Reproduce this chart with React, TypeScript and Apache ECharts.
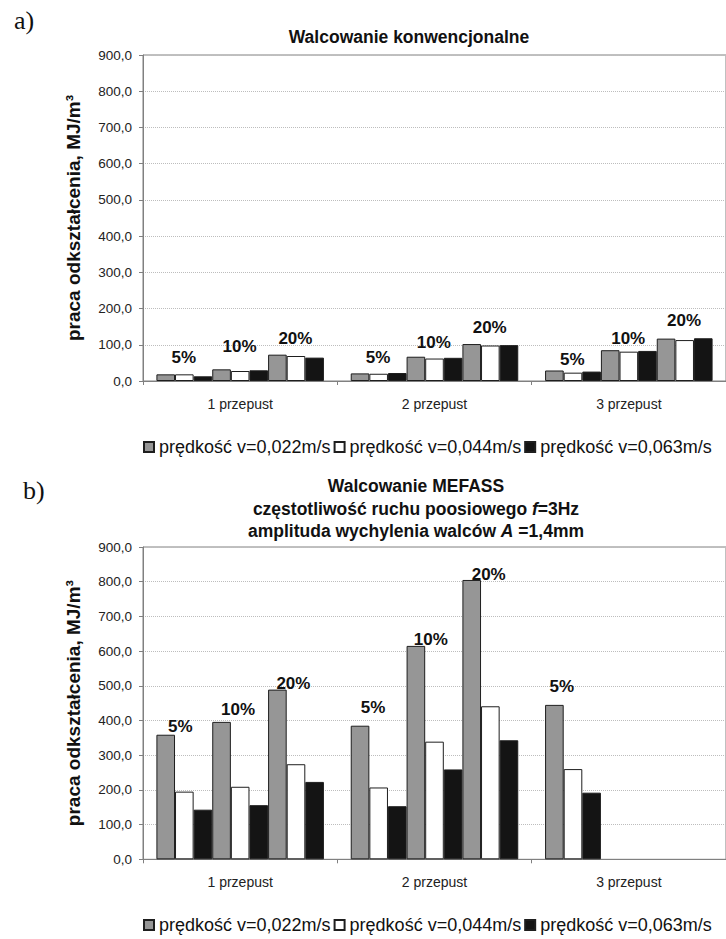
import React, { useEffect, useRef } from 'react';
import * as echarts from 'echarts';

// ---- data ----
const categories = ['1 przepust', '2 przepust', '3 przepust'];
const reductions = ['5%', '10%', '20%'];
const speeds = ['prędkość v=0,022m/s', 'prędkość v=0,044m/s', 'prędkość v=0,063m/s'];
const yMin = 0;
const yMax = 900;
const yStep = 100;

// values ordered [1p 5%, 1p 10%, 1p 20%, 2p 5%, 2p 10%, 2p 20%, 3p 5%, 3p 10%, 3p 20%]
const convV022 = [18.4, 32.2, 72.7, 21, 67, 102, 29, 85, 117];
const convV044 = [18.4, 27.6, 69, 20, 62, 98, 23, 81, 113];
const convV063 = [12.9, 29.5, 64.5, 22, 64, 99, 26, 83, 118];

const mefassV022 = [359, 396, 489, 385, 615, 805, 445, null, null];
const mefassV044 = [195, 209, 274, 207, 339, 441, 260, null, null];
const mefassV063 = [143, 156, 223, 153, 259, 343, 192, null, null];

// ---- layout (not data) ----
const FONT = 'Liberation Sans, Arial, sans-serif';
const barColors = ['#969696', '#ffffff', '#141414'];
// label lift above gray bar top (px) and horizontal shift, per category / reduction
const liftA = [[16.6, 23.3, 16.4], [15.6, 14, 16.6], [11, 12, 18]];
const dxA = [[18, 18, 18], [18, 18, 18], [18, 18, 18]];
const liftB = [[8, 12, 6], [18.6, 6.7, 5], [18, 0, 0]];
const dxB = [[14.5, 16.5, 16], [13, 15, 17], [7.5, 0, 0]];

const fmt = (v: number) => v.toFixed(1).replace('.', ',');

function buildSeries(panel: number, vals: (number | null)[][], lift: number[][], dx: number[][]) {
  const out: any[] = [];
  reductions.forEach((red, r) => {
    speeds.forEach((sp, s) => {
      out.push({
        type: 'bar',
        name: sp,
        xAxisIndex: panel,
        yAxisIndex: panel,
        barGap: '0%',
        barCategoryGap: '13.8%',
        itemStyle: { color: barColors[s], borderColor: '#1e1e1e', borderWidth: 1 },
        emphasis: { disabled: true },
        data: categories.map((_, c) => {
          const v = vals[s][c * 3 + r];
          if (v == null) return null;
          if (s !== 0) return v;
          return {
            value: v,
            label: {
              show: true,
              formatter: red,
              position: 'top',
              distance: 0,
              offset: [dx[c][r], -(lift[c][r] - 8.5)],
              fontSize: 17,
              fontWeight: 'bold',
              fontFamily: FONT,
              color: '#111',
            },
          };
        }),
      });
    });
  });
  return out;
}

const grids = [
  { left: 143, top: 55, width: 588, height: 326 },
  { left: 143, top: 547, width: 588, height: 312.3 },
];

const makeX = (i: number) => ({
  type: 'category',
  gridIndex: i,
  data: categories,
  axisLine: { lineStyle: { color: '#808080', width: 1 } },
  axisTick: { show: true, length: 4, lineStyle: { color: '#808080' } },
  axisLabel: { margin: 16, fontSize: 14, fontFamily: FONT, color: '#222' },
});

const makeY = (i: number) => ({
  type: 'value',
  gridIndex: i,
  min: yMin,
  max: yMax,
  interval: yStep,
  name: 'praca odkształcenia, MJ/m³',
  nameLocation: 'middle',
  nameGap: 60,
  nameTextStyle: { fontSize: 19, fontWeight: 'bold', fontFamily: FONT, color: '#111' },
  axisLine: { show: true, lineStyle: { color: '#808080', width: 1 } },
  axisTick: { show: true, length: 4, lineStyle: { color: '#808080' } },
  axisLabel: { margin: 11, fontSize: 13.5, fontFamily: FONT, color: '#222', formatter: fmt },
  splitLine: { show: true, lineStyle: { color: '#bdbdbd', type: 'dotted', width: 1 } },
});

const titleRich = {
  b: { fontSize: 17.5, fontWeight: 'bold', fontFamily: FONT, color: '#111', lineHeight: 22.5, align: 'center' },
  bi: { fontSize: 17.5, fontWeight: 'bold', fontStyle: 'italic', fontFamily: FONT, color: '#111', lineHeight: 22.5, align: 'center' },
};

const legendBase = {
  data: speeds,
  left: 143,
  width: 620,
  padding: 0,
  icon: 'rect',
  itemWidth: 10,
  itemHeight: 10,
  itemGap: 3,
  textStyle: { fontSize: 18, fontFamily: FONT, color: '#111' },
  selectedMode: false,
};

const option: any = {
  animation: false,
  backgroundColor: '#ffffff',
  title: [
    { text: 'a)', left: 9, top: 2, textStyle: { fontFamily: 'Liberation Serif, serif', fontSize: 26, fontWeight: 'normal', color: '#111' } },
    { text: 'b)', left: 18, top: 472, textStyle: { fontFamily: 'Liberation Serif, serif', fontSize: 26, fontWeight: 'normal', color: '#111' } },
    {
      text: '{b|Walcowanie konwencjonalne}',
      left: 404,
      top: 21,
      textAlign: 'center',
      textStyle: { rich: titleRich },
    },
    {
      text:
        '{b|Walcowanie MEFASS}\n{b|częstotliwość ruchu poosiowego }{bi|f}{b|=3Hz}\n{b|amplituda wychylenia walców }{bi|A}{b| =1,4mm}',
      left: 411,
      top: 470,
      textAlign: 'center',
      textStyle: { rich: titleRich },
    },
  ],
  legend: [
    { ...legendBase, top: 438 },
    { ...legendBase, top: 916 },
  ],
  grid: grids.map((g) => ({ ...g, show: true, borderColor: '#808080', borderWidth: 1, backgroundColor: 'transparent' })),
  xAxis: [makeX(0), makeX(1)],
  yAxis: [makeY(0), makeY(1)],
  series: [
    ...buildSeries(0, [convV022, convV044, convV063], liftA, dxA),
    ...buildSeries(1, [mefassV022, mefassV044, mefassV063], liftB, dxB),
  ],
};

export default function App() {
  const ref = useRef<HTMLDivElement>(null);
  useEffect(() => {
    const chart = echarts.init(ref.current as HTMLDivElement, null, { renderer: 'svg' });
    chart.setOption(option);
    return () => chart.dispose();
  }, []);
  return <div ref={ref} style={{ position: 'absolute', left: 0, top: 0, width: 726, height: 939 }} />;
}
